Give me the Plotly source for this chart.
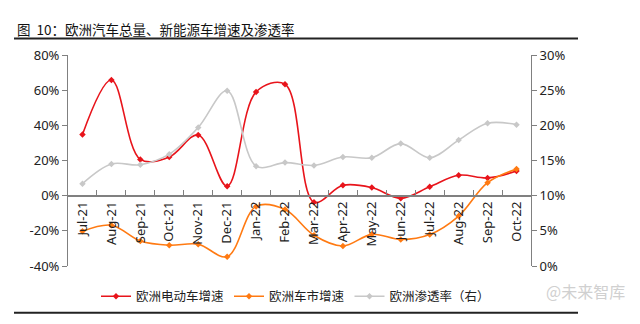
import plotly.graph_objects as go

months = ["Jul-21", "Aug-21", "Sep-21", "Oct-21", "Nov-21", "Dec-21", "Jan-22", "Feb-22",
          "Mar-22", "Apr-22", "May-22", "Jun-22", "Jul-22", "Aug-22", "Sep-22", "Oct-22"]
ev_growth = [34.8, 65.8, 20.6, 22.0, 34.5, 5.4, 59.0, 63.4, -3.7, 5.9, 4.6, -1.5, 5.1, 11.6, 10.1, 14.0]
market_growth = [-20.3, -16.8, -25.8, -28.2, -27.6, -34.7, -6.1, -7.9, -22.5, -28.6, -22.0, -24.9, -22.1, -11.6, 7.4, 15.1]
penetration = [11.7, 14.5, 14.4, 15.9, 19.7, 24.9, 14.2, 14.7, 14.3, 15.5, 15.4, 17.4, 15.4, 17.9, 20.3, 20.1]

left_ticks = [-40, -20, 0, 20, 40, 60, 80]
right_ticks = [0, 5, 10, 15, 20, 25, 30]

W, H = 640, 324
L, R, T, B = 68, 109, 55, 52
pw, ph = W - L - R, H - T - B

def px(x):
    return (x - L) / pw

def py(y):
    return (H - B - y) / ph

FONT = "Noto Sans, Noto Sans CJK SC, sans-serif"
CJK = "Noto Sans CJK SC, sans-serif"

fig = go.Figure()
fig.add_trace(go.Scatter(x=months, y=ev_growth, name="欧洲电动车增速", mode="lines+markers",
                         line=dict(color="#E8141B", width=1.6, shape="spline"),
                         marker=dict(symbol="diamond", size=5, color="#E8141B")))
fig.add_trace(go.Scatter(x=months, y=market_growth, name="欧洲车市增速", mode="lines+markers",
                         line=dict(color="#FF7A12", width=1.6, shape="spline"),
                         marker=dict(symbol="diamond", size=5, color="#FF7A12")))
fig.add_trace(go.Scatter(x=months, y=penetration, name="欧洲渗透率（右）", mode="lines+markers",
                         line=dict(color="#C8C8C8", width=1.6, shape="spline"),
                         marker=dict(symbol="diamond", size=5, color="#C8C8C8"), yaxis="y2"))

fig.update_layout(
    width=W, height=H,
    margin=dict(l=L, r=R, t=T, b=B, pad=0),
    paper_bgcolor="white", plot_bgcolor="white",
    font=dict(family=FONT, size=13, color="#222"),
    showlegend=True,
    legend=dict(orientation="h", x=px(96), y=py(288), xanchor="left", yanchor="top",
                font=dict(family=CJK, size=12.5, color="#222"), itemwidth=30,
                tracegroupgap=0, bgcolor="rgba(0,0,0,0)"),
    xaxis=dict(type="category", anchor="free", position=1/3, showline=True, linecolor="#808080",
               linewidth=1.5, ticks="inside", tickson="boundaries", ticklen=5, tickcolor="#808080",
               tickangle=-90, showgrid=False, zeroline=False, tickfont=dict(size=13),
               range=[-0.5, len(months) - 0.5]),
    yaxis=dict(range=[-40, 80], tickvals=left_ticks, ticktext=[f"{v}%" for v in left_ticks],
               showgrid=False, zeroline=False, showline=True, linecolor="#808080", linewidth=1,
               ticks="outside", ticklen=5, tickcolor="#808080", tickfont=dict(size=13)),
    yaxis2=dict(range=[0, 30], overlaying="y", side="right", tickvals=right_ticks,
                ticktext=[f"{v}%" for v in right_ticks], showgrid=False, zeroline=False,
                showline=True, linecolor="#808080", linewidth=1, ticks="outside", ticklen=5,
                tickcolor="#808080", tickfont=dict(size=13)),
)

fig.add_annotation(text="图  10：欧洲汽车总量、新能源车增速及渗透率", xref="paper", yref="paper",
                   x=px(15), y=py(28), xanchor="left", yanchor="middle", showarrow=False,
                   font=dict(family=CJK, size=13.5, color="#111"))
fig.add_shape(type="line", xref="paper", yref="paper", x0=px(14), x1=px(578), y0=py(38), y1=py(38),
              line=dict(color="#222", width=2))
fig.add_shape(type="line", xref="paper", yref="paper", x0=px(14), x1=px(578), y0=py(320), y1=py(320),
              line=dict(color="#222", width=2))
fig.add_annotation(text="@未来智库", xref="paper", yref="paper", x=px(627), y=py(298),
                   xanchor="right", yanchor="middle", showarrow=False,
                   font=dict(family=CJK, size=16, color="#D0D0D0"))

fig.write_html("out.html")
